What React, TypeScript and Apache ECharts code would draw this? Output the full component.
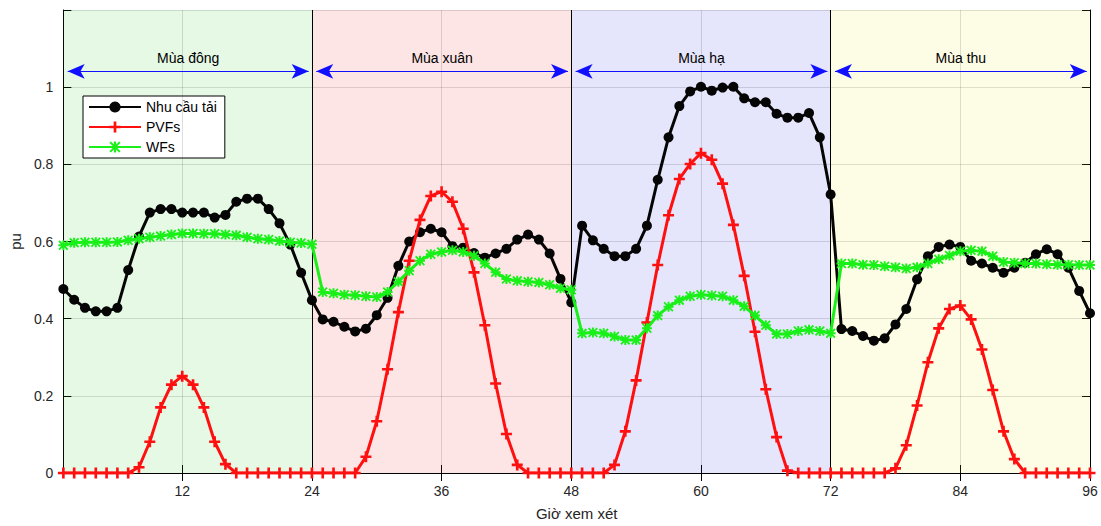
import React, { useEffect, useRef } from "react";
import * as echarts from "echarts";

// Hourly samples: hour 1 … 96 (four representative 24 h days)
const FIRST_HOUR = 1;
const LAST_HOUR = 96;

const seasons = ["Mùa đông", "Mùa xuân", "Mùa hạ", "Mùa thu"];
const seasonBounds = [1, 24, 48, 72, 96];
const seasonColors = [
  "rgba(0,200,0,0.10)",
  "rgba(240,0,0,0.10)",
  "rgba(0,0,220,0.10)",
  "rgba(235,235,0,0.10)",
];

const loadDemand = [
  // đông
  0.477, 0.449, 0.428, 0.419, 0.419, 0.428, 0.526, 0.613, 0.675, 0.684, 0.684, 0.675,
  0.675, 0.675, 0.662, 0.669, 0.703, 0.711, 0.711, 0.684, 0.647, 0.592, 0.519, 0.448,
  // xuân
  0.398, 0.392, 0.379, 0.367, 0.374, 0.409, 0.454, 0.537, 0.6, 0.624, 0.633, 0.624,
  0.588, 0.584, 0.57, 0.558, 0.569, 0.581, 0.605, 0.618, 0.605, 0.569, 0.503, 0.442,
  // hạ
  0.641, 0.603, 0.581, 0.562, 0.562, 0.581, 0.641, 0.76, 0.87, 0.951, 0.989, 1.001,
  0.991, 0.999, 1.001, 0.971, 0.961, 0.961, 0.931, 0.921, 0.921, 0.933, 0.87, 0.722,
  // thu
  0.373, 0.368, 0.355, 0.343, 0.349, 0.385, 0.425, 0.502, 0.562, 0.586, 0.592, 0.586,
  0.55, 0.543, 0.532, 0.519, 0.532, 0.545, 0.567, 0.58, 0.567, 0.532, 0.472, 0.414,
];

const pvOutput = [
  0, 0, 0, 0, 0, 0, 0, 0.015, 0.081, 0.17, 0.229, 0.251,
  0.229, 0.17, 0.081, 0.023, 0, 0, 0, 0, 0, 0, 0, 0,
  0, 0, 0, 0, 0.042, 0.134, 0.269, 0.417, 0.55, 0.656, 0.718, 0.729,
  0.703, 0.633, 0.52, 0.383, 0.232, 0.101, 0.021, 0, 0, 0, 0, 0,
  0, 0, 0, 0.021, 0.108, 0.24, 0.39, 0.539, 0.668, 0.762, 0.801, 0.829,
  0.812, 0.75, 0.643, 0.511, 0.366, 0.217, 0.093, 0.006, 0, 0, 0, 0,
  0, 0, 0, 0, 0, 0.012, 0.072, 0.175, 0.287, 0.375, 0.425, 0.434,
  0.398, 0.32, 0.215, 0.108, 0.036, 0, 0, 0, 0, 0, 0, 0,
];

const windOutput = [
  0.59, 0.597, 0.598, 0.598, 0.598, 0.599, 0.603, 0.607, 0.611, 0.614, 0.618, 0.621,
  0.621, 0.62, 0.62, 0.618, 0.616, 0.611, 0.607, 0.605, 0.601, 0.598, 0.596, 0.593,
  0.469, 0.466, 0.462, 0.461, 0.458, 0.456, 0.469, 0.496, 0.524, 0.55, 0.567, 0.573,
  0.577, 0.573, 0.563, 0.543, 0.52, 0.503, 0.498, 0.496, 0.494, 0.488, 0.479, 0.475,
  0.362, 0.364, 0.362, 0.354, 0.345, 0.345, 0.375, 0.408, 0.431, 0.448, 0.458, 0.462,
  0.46, 0.458, 0.448, 0.432, 0.408, 0.383, 0.36, 0.36, 0.368, 0.371, 0.368, 0.362,
  0.543, 0.543, 0.54, 0.539, 0.536, 0.533, 0.53, 0.533, 0.543, 0.554, 0.564, 0.575,
  0.577, 0.575, 0.562, 0.547, 0.545, 0.543, 0.543, 0.541, 0.54, 0.54, 0.539, 0.539,
];

const xTicks = [12, 24, 36, 48, 60, 72, 84, 96];
const xGrid = [12, 36, 60, 84];
const yTicks = [0, 0.2, 0.4, 0.6, 0.8, 1];
const arrowLevel = 1.041;

const FONT = "Arial, 'Liberation Sans', Helvetica, sans-serif";
const TEXT = "#262626";
const GRID = "rgba(0,0,0,0.13)";

const PLUS_PATH =
  "path://M3.8,0 H6.2 V3.8 H10 V6.2 H6.2 V10 H3.8 V6.2 H0 V3.8 H3.8 Z";
const STAR_PATH =
  "path://M4,0 H6 V4 H10 V6 H6 V10 H4 V6 H0 V4 H4 Z M0,1.3 L1.3,0 L10,8.7 L8.7,10 Z M8.7,0 L10,1.3 L1.3,10 L0,8.7 Z";

const toPoints = (vals: number[]) => vals.map((v, i) => [FIRST_HOUR + i, v]);

export default function App() {
  const ref = useRef<HTMLDivElement>(null);

  useEffect(() => {
    if (!ref.current) return;
    const chart = echarts.init(ref.current, undefined, { renderer: "svg" });

    const seasonAreas = seasons.map((_, k) => [
      { xAxis: seasonBounds[k], yAxis: 0, itemStyle: { color: seasonColors[k] } },
      { xAxis: seasonBounds[k + 1], yAxis: 1.2 },
    ]);

    const boundaryLines = seasonBounds.slice(1, 4).map((b) => [
      { coord: [b, 0] },
      { coord: [b, 1.2] },
    ]);

    const gridLines = xGrid.map((g) => [
      { coord: [g, 0] },
      { coord: [g, 1.2] },
    ]);

    const arrows = seasons.map((name, k) => [
      {
        coord: [seasonBounds[k] + 0.4, arrowLevel],
        label: {
          show: true,
          formatter: name,
          position: "insideMiddleTop",
          distance: 6,
          color: "#000",
          fontSize: 14,
          fontFamily: FONT,
        },
      },
      { coord: [seasonBounds[k + 1] - 0.3, arrowLevel] },
    ]);

    const axisLine = { show: true, lineStyle: { color: "#000", width: 1 } };
    const tick = (values?: number[]) => ({
      show: true,
      inside: true,
      length: 8,
      lineStyle: { color: "#000" },
      ...(values ? { customValues: values } : {}),
    });

    chart.setOption({
      animation: false,
      backgroundColor: "#fff",
      grid: { left: 62, width: 1028, top: 10, height: 469, containLabel: false },
      legend: {
        data: ["Nhu cầu tải", "PVFs", "WFs"],
        orient: "vertical",
        left: 83,
        top: 96,
        padding: [4, 8, 4, 5],
        itemGap: 6,
        itemWidth: 52,
        itemHeight: 14,
        backgroundColor: "#fff",
        borderColor: "#000",
        borderWidth: 1,
        borderRadius: 0,
        textStyle: { fontSize: 14, color: "#000", fontFamily: FONT },
      },
      xAxis: [
        {
          type: "value",
          min: FIRST_HOUR,
          max: LAST_HOUR,
          position: "bottom",
          name: "Giờ xem xét",
          nameLocation: "middle",
          nameGap: 33,
          nameTextStyle: { fontSize: 15, color: TEXT, fontFamily: FONT },
          axisLine,
          axisTick: tick(xTicks),
          axisLabel: {
            color: TEXT,
            fontSize: 14,
            fontFamily: FONT,
            margin: 11,
            customValues: xTicks,
          },
          splitLine: { show: false },
        },
        {
          type: "value",
          min: FIRST_HOUR,
          max: LAST_HOUR,
          position: "top",
          axisLine,
          axisTick: tick(xTicks),
          axisLabel: { show: false },
          splitLine: { show: false },
        },
      ],
      yAxis: [
        {
          type: "value",
          min: 0,
          max: 1.2,
          interval: 0.2,
          position: "left",
          name: "pu",
          nameLocation: "middle",
          nameGap: 40,
          nameTextStyle: { fontSize: 15, color: TEXT, fontFamily: FONT },
          axisLine,
          axisTick: tick(),
          axisLabel: {
            color: TEXT,
            fontSize: 14,
            fontFamily: FONT,
            margin: 10,
            formatter: (v: number) =>
              yTicks.some((t) => Math.abs(t - v) < 1e-6) ? String(Math.round(v * 10) / 10) : "",
          },
          splitLine: { show: true, lineStyle: { color: GRID, width: 1 } },
        },
        {
          type: "value",
          min: 0,
          max: 1.2,
          interval: 0.2,
          position: "right",
          axisLine,
          axisTick: tick(),
          axisLabel: { show: false },
          splitLine: { show: false },
        },
      ],
      series: [
        {
          name: "seasons",
          type: "line",
          data: [],
          silent: true,
          z: 1,
          markArea: { silent: true, data: seasonAreas },
        },
        {
          name: "grid",
          type: "line",
          data: [],
          silent: true,
          z: 1,
          markLine: {
            silent: true,
            symbol: ["none", "none"],
            label: { show: false },
            lineStyle: { color: GRID, width: 1, type: "solid" },
            data: gridLines,
          },
        },
        {
          name: "bounds",
          type: "line",
          data: [],
          silent: true,
          z: 2,
          markLine: {
            silent: true,
            symbol: ["none", "none"],
            label: { show: false },
            lineStyle: { color: "#000", width: 1, type: "solid" },
            data: boundaryLines,
          },
        },
        {
          name: "arrows",
          type: "line",
          data: [],
          silent: true,
          z: 3,
          markLine: {
            silent: true,
            symbol: ["arrow", "arrow"],
            symbolSize: [11, 17],
            lineStyle: { color: "#1010ff", width: 1.2, type: "solid" },
            data: arrows,
          },
        },
        {
          name: "Nhu cầu tải",
          type: "line",
          data: toPoints(loadDemand),
          symbol: "circle",
          symbolSize: 10,
          lineStyle: { color: "#050505", width: 3 },
          itemStyle: { color: "#050505" },
          z: 4,
        },
        {
          name: "PVFs",
          type: "line",
          data: toPoints(pvOutput),
          symbol: PLUS_PATH,
          symbolSize: 11,
          lineStyle: { color: "#ff1010", width: 3 },
          itemStyle: { color: "#ff1010" },
          z: 5,
        },
        {
          name: "WFs",
          type: "line",
          data: toPoints(windOutput),
          symbol: STAR_PATH,
          symbolSize: 10,
          lineStyle: { color: "#18f018", width: 3 },
          itemStyle: { color: "#18f018" },
          z: 6,
        },
      ],
    });

    return () => chart.dispose();
  }, []);

  return (
    <div
      ref={ref}
      style={{ position: "absolute", left: 0, top: 0, width: 1101, height: 526 }}
    />
  );
}
